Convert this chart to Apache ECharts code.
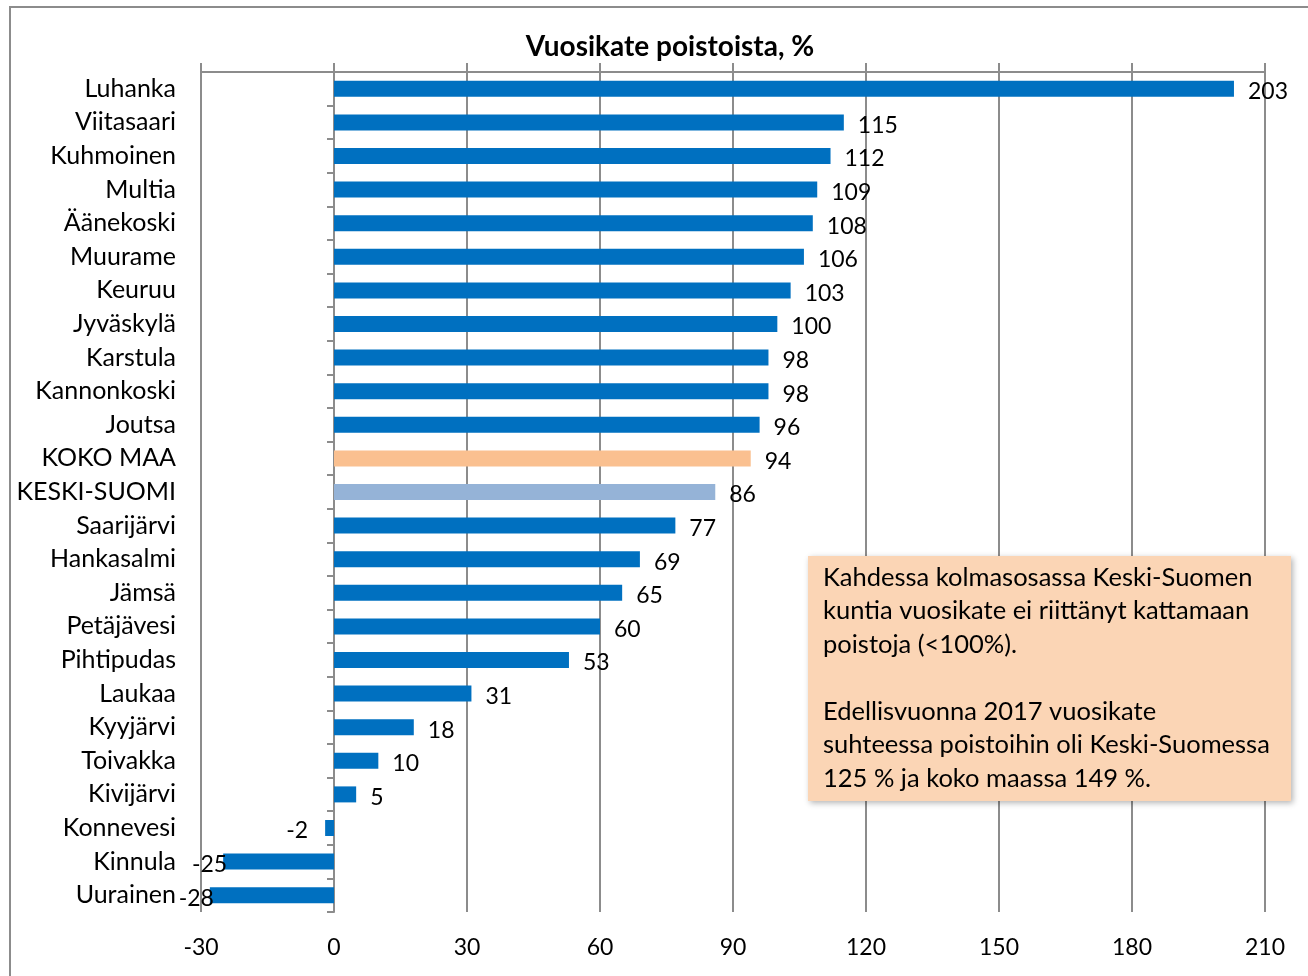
<!DOCTYPE html>
<html>
<head>
    <meta charset="utf-8"/>
    <title>Vuosikate poistoista</title>
    <script src="https://cdn.jsdelivr.net/npm/echarts@6/dist/echarts.min.js"></script>
    <style>
        html, body { margin: 0; padding: 0; background: #fff; }
        #main { width: 1308px; height: 976px; }
    </style>
</head>
<body>
<div id="main"></div>
<script>
    // kunnat ja arvot (%)
    var kunnat = ['Luhanka', 'Viitasaari', 'Kuhmoinen', 'Multia', 'Äänekoski', 'Muurame', 'Keuruu', 'Jyväskylä',
        'Karstula', 'Kannonkoski', 'Joutsa', 'KOKO MAA', 'KESKI-SUOMI', 'Saarijärvi', 'Hankasalmi', 'Jämsä',
        'Petäjävesi', 'Pihtipudas', 'Laukaa', 'Kyyjärvi', 'Toivakka', 'Kivijärvi', 'Konnevesi', 'Kinnula', 'Uurainen'];
    var arvot = [203, 115, 112, 109, 108, 106, 103, 100, 98, 98, 96, 94, 86, 77, 69, 65, 60, 53, 31, 18, 10, 5, -2, -25, -28];
    var xMin = -30, xMax = 210, xStep = 30;
    var huomio = [
        'Kahdessa kolmasosassa Keski-Suomen',
        'kuntia vuosikate ei riittänyt kattamaan',
        'poistoja (<100%).',
        '',
        'Edellisvuonna 2017 vuosikate',
        'suhteessa poistoihin oli Keski-Suomessa',
        '125 % ja koko maassa 149 %.'
    ];

    var fontti = 'Lato, "Noto Sans", sans-serif';
    var harmaa = '#8c8c8c';

    var palkit = [];
    for (var i = 0; i < kunnat.length; i++) {
        var vari = '#0070C0';
        if (kunnat[i] === 'KOKO MAA') vari = '#FAC090';
        if (kunnat[i] === 'KESKI-SUOMI') vari = '#95B3D7';
        var neg = arvot[i] < 0;
        palkit.push({
            value: arvot[i],
            itemStyle: {color: vari},
            // pitkät negatiiviset: nimiö palkin päälle kuten Excelissä
            label: {position: neg ? 'left' : 'right', distance: neg ? (arvot[i] < -10 ? -4 : 17) : 14}
        });
    }

    var myChart = echarts.init(document.getElementById('main'));
    var option = {
        animation: false,
        title: {
            text: 'Vuosikate poistoista, %',
            left: 665,
            textAlign: 'center',
            top: 28,
            textStyle: {fontFamily: fontti, fontSize: 28, fontWeight: 'bold', color: '#000'}
        },
        grid: {left: 201, right: 43, top: 72, bottom: 64},
        xAxis: [{
            type: 'value', position: 'top', min: xMin, max: xMax, interval: xStep,
            axisLine: {show: true, onZero: false, lineStyle: {color: harmaa, width: 2}},
            axisTick: {show: true, length: 9, lineStyle: {color: harmaa, width: 2}},
            axisLabel: {show: false},
            splitLine: {show: true, lineStyle: {color: harmaa, width: 2}}
        }, {
            type: 'value', position: 'bottom', min: xMin, max: xMax, interval: xStep,
            axisLine: {show: false, onZero: false},
            axisTick: {show: false},
            axisLabel: {margin: 24, color: '#000', fontFamily: fontti, fontSize: 23},
            splitLine: {show: false}
        }],
        yAxis: [{
            type: 'category', inverse: true, data: kunnat, position: 'left',
            axisLine: {show: false, onZero: false},
            axisTick: {show: false},
            axisLabel: {margin: 25, color: '#000', fontFamily: fontti, fontSize: 25}
        }, {
            // pystyakseli nollakohdassa
            type: 'category', inverse: true, data: kunnat, position: 'left',
            axisLine: {show: true, onZero: true, lineStyle: {color: harmaa, width: 2}},
            axisTick: {show: true, length: 7, lineStyle: {color: harmaa, width: 2}},
            axisLabel: {show: false}
        }],
        series: [{
            type: 'bar',
            xAxisIndex: 0,
            yAxisIndex: 0,
            data: palkit,
            barWidth: 16,
            label: {
                show: true,
                offset: [0, 3],
                color: '#000',
                fontFamily: fontti,
                fontSize: 23
            }
        }],
        graphic: [{
            type: 'rect',
            shape: {x: 10, y: 7, width: 1330, height: 1000},
            style: {fill: 'none', stroke: harmaa, lineWidth: 2},
            z: 0
        }, {
            type: 'rect',
            shape: {x: 808, y: 556, width: 483, height: 245},
            style: {
                fill: '#FBD5B5',
                shadowBlur: 6,
                shadowColor: 'rgba(0,0,0,0.3)',
                shadowOffsetX: 2,
                shadowOffsetY: 2
            },
            z: 10
        }, {
            type: 'text',
            x: 823,
            y: 561,
            style: {
                text: huomio.join('\n'),
                fill: '#000',
                font: '25.5px ' + fontti,
                lineHeight: 33.5
            },
            z: 11
        }]
    };
    myChart.setOption(option);
</script>
</body>
</html>
